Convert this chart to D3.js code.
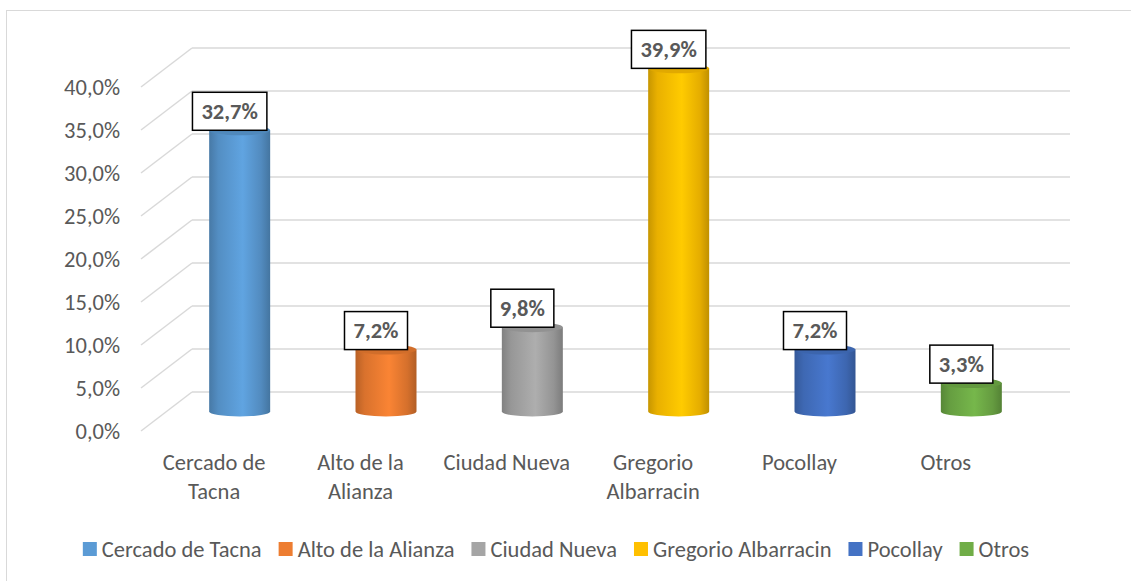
<!DOCTYPE html>
<html>
<head>
<meta charset="utf-8">
<script src="https://cdn.jsdelivr.net/npm/d3@7"></script>
<style>
  body { margin: 0; background: #fff; }
  svg { display: block; }
  text { font-family: Carlito, Calibri, Lato, sans-serif; fill: #595959; }
</style>
</head>
<body>
<svg id="chart" width="1131" height="581"></svg>
<script>
// data
var categories = ['Cercado de Tacna', 'Alto de la Alianza', 'Ciudad Nueva', 'Gregorio Albarracin', 'Pocollay', 'Otros']
var catLines = [['Cercado de', 'Tacna'], ['Alto de la', 'Alianza'], ['Ciudad Nueva'], ['Gregorio', 'Albarracin'], ['Pocollay'], ['Otros']]
var values = [0.327, 0.072, 0.098, 0.399, 0.072, 0.033]
var colors = ['#5B9BD5', '#ED7D31', '#A5A5A5', '#FFC000', '#4472C4', '#70AD47']
var yTicks = [0, 0.05, 0.10, 0.15, 0.20, 0.25, 0.30, 0.35, 0.40]

var svg = d3.select('#chart')
var locale = d3.formatLocale({decimal: ',', thousands: '.', grouping: [3], currency: ['', '']})
var pct = locale.format('.1%')
var fs = 22.5

// 3d depth offset (back wall -> front)
var dx = -51, dy = 39

var x = d3.scaleBand()
    .domain(categories)
    .range([192, 1070])

var y = d3.scaleLinear()
    .domain([0, 0.40])
    .range([392, 48])

// outer border
svg.append('rect')
    .attr('x', 6.5).attr('y', 10.5)
    .attr('width', 1130).attr('height', 580)
    .attr('fill', 'none')
    .attr('stroke', '#D9D9D9')
    .attr('stroke-width', 1)

// gridlines: back wall + side floor diagonals
var grid = svg.append('g')
grid.selectAll('.back').data(yTicks).enter().append('line')
    .attr('x1', x.range()[0]).attr('x2', x.range()[1])
    .attr('y1', function(d) { return y(d) }).attr('y2', function(d) { return y(d) })
    .attr('stroke', '#D9D9D9').attr('stroke-width', 1.5)
grid.selectAll('.side').data(yTicks).enter().append('line')
    .attr('x1', x.range()[0]).attr('x2', x.range()[0] + dx)
    .attr('y1', function(d) { return y(d) }).attr('y2', function(d) { return y(d) + dy })
    .attr('stroke', '#D9D9D9').attr('stroke-width', 1.5)

// y axis on the front plane
var yFront = y.copy().range(y.range().map(function(v) { return v + dy }))
var yAxis = svg.append('g')
    .attr('transform', 'translate(' + (x.range()[0] + dx - 10) + ',0)')
    .call(d3.axisLeft(yFront).tickValues(yTicks).tickFormat(pct).tickSize(0).tickPadding(11))
yAxis.select('.domain').remove()
yAxis.selectAll('text')
    .attr('font-size', fs)
    .attr('fill', '#595959')
    .style('font-family', 'Carlito, Calibri, Lato, sans-serif')

// cylinders sit half way in depth
var bw = 61, ry = 5
var defs = svg.append('defs')
colors.forEach(function(c, i) {
    var g = defs.append('linearGradient').attr('id', 'grad' + i)
        .attr('x1', '0%').attr('x2', '100%').attr('y1', '0%').attr('y2', '0%')
    var base = d3.color(c)
    g.append('stop').attr('offset', '0%').attr('stop-color', base.darker(0.7))
    g.append('stop').attr('offset', '15%').attr('stop-color', base.darker(0.25))
    g.append('stop').attr('offset', '55%').attr('stop-color', base.brighter(0.15))
    g.append('stop').attr('offset', '85%').attr('stop-color', base.darker(0.3))
    g.append('stop').attr('offset', '100%').attr('stop-color', base.darker(0.8))
})

var bars = svg.append('g').selectAll('g')
    .data(values).enter().append('g')

function cx(i) { return x(categories[i]) + x.bandwidth() / 2 + dx / 2 }
function ytop(d) { return y(d) + dy / 2 }
var y0 = y(0) + dy / 2

bars.append('path')
    .attr('d', function(d, i) {
        var l = cx(i) - bw / 2, r = cx(i) + bw / 2, t = ytop(d)
        return 'M' + l + ',' + t + 'L' + l + ',' + y0 +
            'A' + (bw / 2) + ',' + ry + ' 0 0 0 ' + r + ',' + y0 +
            'L' + r + ',' + t + 'Z'
    })
    .attr('fill', function(d, i) { return 'url(#grad' + i + ')' })

bars.append('ellipse')
    .attr('cx', function(d, i) { return cx(i) })
    .attr('cy', function(d) { return ytop(d) })
    .attr('rx', bw / 2).attr('ry', ry)
    .attr('fill', function(d, i) { return d3.color(colors[i]).darker(0.35) })

// value labels
var lab = svg.append('g').selectAll('g')
    .data(values).enter().append('g')
    .attr('transform', function(d, i) { return 'translate(' + (cx(i) - 10) + ',' + ytop(d) + ')' })
var labText = lab.append('text')
    .attr('text-anchor', 'middle')
    .attr('y', -19)
    .attr('dy', '0.35em')
    .attr('font-size', fs)
    .attr('font-weight', 'bold')
    .attr('fill', '#404040')
    .text(function(d) { return pct(d) })
lab.insert('rect', 'text')
    .each(function(d, i) {
        var w = labText.nodes()[i].getComputedTextLength() + 18
        d3.select(this).attr('x', -w / 2).attr('width', w)
    })
    .attr('y', -38).attr('height', 38)
    .attr('fill', '#fff').attr('stroke', '#000').attr('stroke-width', 1.5)

// category labels on the front plane
svg.append('g').selectAll('text')
    .data(catLines).enter().append('text')
    .attr('text-anchor', 'middle')
    .attr('font-size', fs)
    .attr('transform', function(d, i) { return 'translate(' + (x(categories[i]) + x.bandwidth() / 2 + dx) + ',462)' })
    .selectAll('tspan').data(function(d) { return d }).enter().append('tspan')
    .attr('x', 0)
    .attr('y', function(d, j) { return j * 29 })
    .attr('dy', '0.35em')
    .text(function(d) { return d })

// legend
var legend = svg.append('g')
var lx = 0
categories.forEach(function(c, i) {
    var item = legend.append('g').attr('transform', 'translate(' + lx + ',0)')
    item.append('rect').attr('x', 0).attr('y', -7).attr('width', 14).attr('height', 14).attr('fill', colors[i])
    var t = item.append('text').attr('x', 19).attr('dy', '0.35em').attr('font-size', fs).text(c)
    lx += 19 + t.node().getComputedTextLength() + 17
})
lx -= 17
legend.attr('transform', 'translate(' + (556 - lx / 2) + ',549)')
</script>
</body>
</html>
